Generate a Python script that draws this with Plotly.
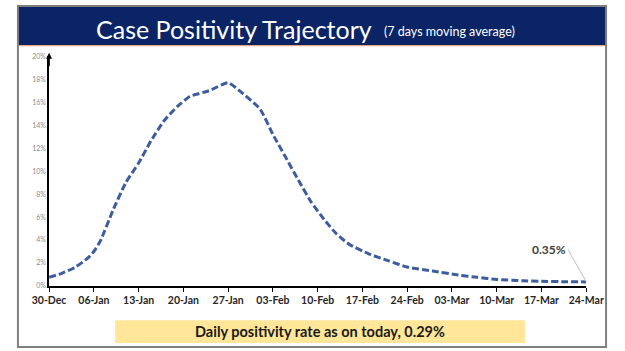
import plotly.graph_objects as go

W, H = 625, 351

dates = ["2021-12-30", "2022-01-01", "2022-01-03", "2022-01-05", "2022-01-06", "2022-01-07",
         "2022-01-09", "2022-01-11", "2022-01-13", "2022-01-15", "2022-01-17", "2022-01-19",
         "2022-01-21", "2022-01-24", "2022-01-27", "2022-01-29", "2022-02-01", "2022-02-03",
         "2022-02-05", "2022-02-07", "2022-02-09", "2022-02-11", "2022-02-13", "2022-02-15",
         "2022-02-18", "2022-02-21", "2022-02-24", "2022-02-28", "2022-03-04", "2022-03-07",
         "2022-03-10", "2022-03-14", "2022-03-17", "2022-03-21", "2022-03-24"]
positivity = [0.75, 1.1, 1.6, 2.4, 3.0, 3.9,
              6.6, 9.0, 10.7, 12.7, 14.4, 15.6,
              16.5, 17.0, 17.7, 16.9, 15.4, 13.2,
              11.2, 9.2, 7.3, 5.8, 4.5, 3.6,
              2.8, 2.2, 1.65, 1.3, 0.95, 0.75,
              0.56, 0.46, 0.40, 0.37, 0.35]
tick_dates = ["2021-12-30", "2022-01-06", "2022-01-13", "2022-01-20", "2022-01-27",
              "2022-02-03", "2022-02-10", "2022-02-17", "2022-02-24", "2022-03-03",
              "2022-03-10", "2022-03-17", "2022-03-24"]
y_ticks = [0, 2, 4, 6, 8, 10, 12, 14, 16, 18, 20]
y_labels = [f"{v}%" for v in y_ticks]

def px_x(p):
    return p / W

def px_y(p):
    return 1 - p / H

fig = go.Figure()
fig.add_trace(go.Scatter(
    x=dates, y=positivity, mode="lines",
    line=dict(color="#3d5d9e", width=3, dash="7px,3px", shape="spline", smoothing=0.5),
    hoverinfo="skip", showlegend=False))

fig.update_layout(
    width=W, height=H, margin=dict(l=0, r=0, t=0, b=0),
    paper_bgcolor="white", plot_bgcolor="white",
    font=dict(family="Lato, Open Sans, sans-serif"),
    xaxis=dict(
        domain=[px_x(34), px_x(603)], type="date",
        range=["2021-12-30", "2022-03-24"],
        tickvals=tick_dates, tickformat="%d-%b",
        ticks="outside", ticklen=4, tickcolor="#000", tickwidth=1,
        showline=True, linecolor="#000", linewidth=1.5,
        showgrid=False, zeroline=False,
        tickfont=dict(size=10.5, color="#262626", weight="bold"),
        fixedrange=True),
    yaxis=dict(
        domain=[px_y(287.5), px_y(52.5)], range=[0, 20],
        tickvals=y_ticks, ticktext=y_labels,
        showline=True, linecolor="#000", linewidth=1.5,
        showgrid=False, zeroline=False, ticks="",
        tickfont=dict(size=7, color="#8c8c8c"),
        fixedrange=True),
)

shapes = [
    dict(type="rect", xref="paper", yref="paper", x0=0, x1=1, y0=px_y(41), y1=1,
         fillcolor="#0b2466", line=dict(width=0), layer="below"),
    dict(type="line", xref="paper", yref="paper", x0=0, x1=1, y0=px_y(41.5), y1=px_y(41.5),
         line=dict(color="#e8a77e", width=1.2)),
    dict(type="rect", xref="paper", yref="paper", x0=px_x(104), x1=px_x(538),
         y0=px_y(346), y1=px_y(322.5), fillcolor="#ffe699", line=dict(width=0), layer="below"),
    dict(type="rect", xref="paper", yref="paper", x0=px_x(1), x1=px_x(624), y0=px_y(350), y1=px_y(1),
         line=dict(color="#7f7f7f", width=2), fillcolor="rgba(0,0,0,0)"),
    dict(type="line", xref="paper", yref="paper", x0=px_x(584), y0=px_y(251), x1=px_x(603), y1=px_y(283),
         line=dict(color="#bfbfbf", width=1)),
]
fig.update_layout(shapes=shapes)

annotations = [
    dict(xref="paper", yref="paper", x=px_x(378), y=px_y(25), xanchor="right", yanchor="middle",
         text="Case Positivity Trajectory", showarrow=False,
         font=dict(size=25, color="white", family="Lato, sans-serif")),
    dict(xref="paper", yref="paper", x=px_x(387), y=px_y(27), xanchor="left", yanchor="middle",
         text="(7 days moving average)", showarrow=False,
         font=dict(size=12.5, color="white", family="Lato, sans-serif")),
    dict(xref="paper", yref="paper", x=px_x(564), y=px_y(250), xanchor="center", yanchor="middle",
         text="0.35%", showarrow=False,
         font=dict(size=12, color="#404040", family="Lato, sans-serif", weight="bold")),
    dict(xref="paper", yref="paper", x=px_x(321), y=px_y(334.5), xanchor="center", yanchor="middle",
         text="Daily positivity rate as on today, 0.29%", showarrow=False,
         font=dict(size=14.5, color="#1a1a1a", family="Lato, sans-serif", weight="bold")),
    dict(xref="x", yref="y", x="2021-12-30", y=20.3, ax="2021-12-30", ay=19.0,
         axref="x", ayref="y", showarrow=True, arrowhead=2, arrowsize=0.8, arrowwidth=1.5,
         arrowcolor="#000", text=""),
]
fig.update_layout(annotations=annotations)

fig.write_html("out.html")
